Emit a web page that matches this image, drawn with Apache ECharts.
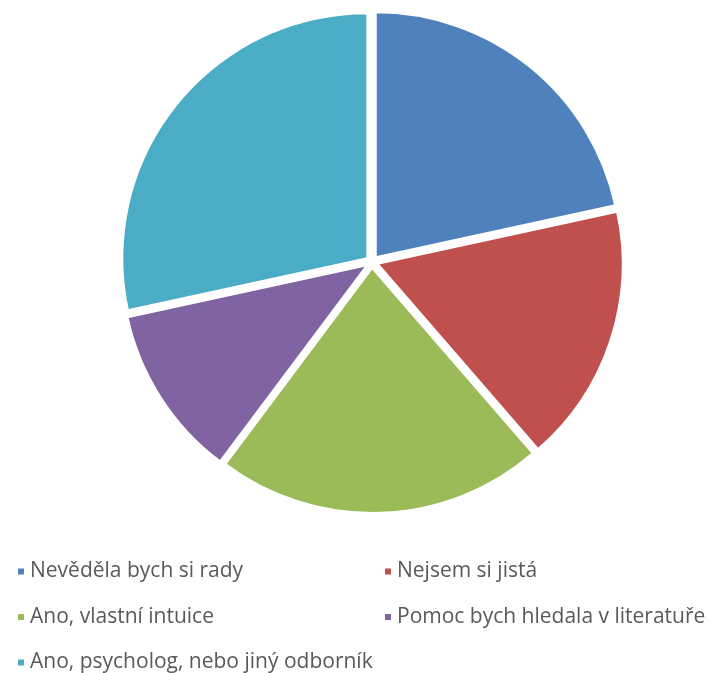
<!DOCTYPE html>
<html>
<head>
<meta charset="utf-8">
<script src="https://cdn.jsdelivr.net/npm/echarts@6/dist/echarts.min.js"></script>
<style>
html,body{margin:0;padding:0;background:#fff;}
#chart{width:710px;height:673px;}
</style>
</head>
<body>
<div id="chart"></div>
<script>
const categories = ["Nevěděla bych si rady","Nejsem si jistá","Ano, vlastní intuice","Pomoc bych hledala v literatuře","Ano, psycholog, nebo jiný odborník"];
const values = [19, 15, 19, 10, 25];
const colors = ["#4F81BD","#C0504D","#9BBB59","#8064A2","#4BACC6"];

const chart = echarts.init(document.getElementById('chart'), null, {renderer:'canvas'});
const textStyle = {fontFamily:'Open Sans', fontSize:21, color:'#595959', lineHeight:20};
const legendCommon = {
  orient:'vertical', icon:'rect', itemWidth:8, itemHeight:8, itemGap:24.5,
  textStyle: textStyle, selectedMode:false, padding:0
};
chart.setOption({
  animation:false,
  color: colors,
  legend: [
    Object.assign({left:16, top:561, data:[categories[0],categories[2],categories[4]]}, legendCommon),
    Object.assign({left:383, top:561, data:[categories[1],categories[3]]}, legendCommon)
  ],
  series:[{
    type:'pie',
    center:[372,262],
    radius:[0,245],
    startAngle:90,
    clockwise:true,
    selectedMode:'multiple',
    selectedOffset:6,
    label:{show:false},
    labelLine:{show:false},
    emphasis:{disabled:true},
    itemStyle:{borderColor:'#fff', borderWidth:2},
    select:{itemStyle:{borderColor:'#fff', borderWidth:2}},
    data: categories.map((c,i)=>({name:c, value:values[i], selected:true, itemStyle:{color:colors[i]}}))
  }]
});
</script>
</body>
</html>
